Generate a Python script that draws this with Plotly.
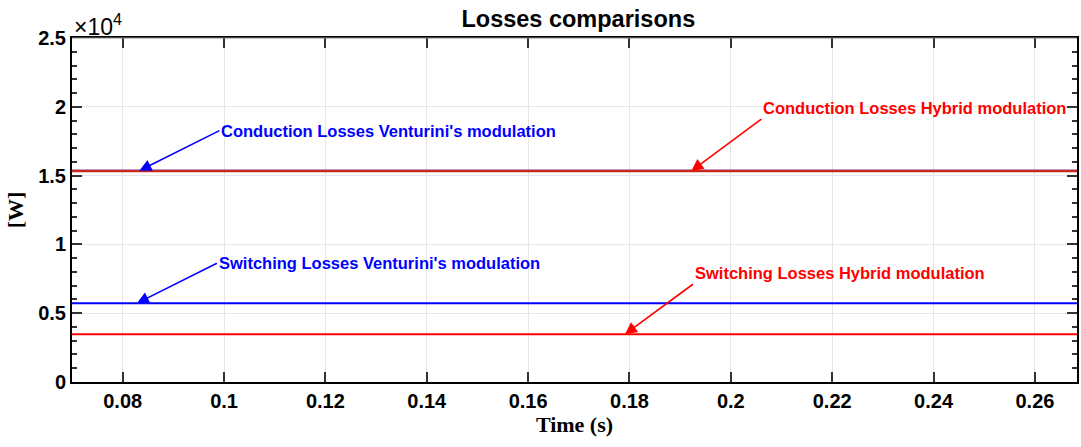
import plotly.graph_objects as go

# Data (values in W)
time_s = [0.07, 0.27]
cond_venturini = [15360, 15360]
cond_hybrid = [15330, 15330]
sw_venturini = [5720, 5720]
sw_hybrid = [3470, 3470]

y_tickvals = [0, 5000, 10000, 15000, 20000, 25000]
y_ticktext = ["0", "0.5", "1", "1.5", "2", "2.5"]
x_tickvals = [0.08, 0.10, 0.12, 0.14, 0.16, 0.18, 0.20, 0.22, 0.24, 0.26]
x_ticktext = ["0.08", "0.1", "0.12", "0.14", "0.16", "0.18", "0.2", "0.22", "0.24", "0.26"]

BLUE = "#0000FF"
RED = "#FF0000"
SANS = "Liberation Sans, Arial, sans-serif"
SERIF = "Liberation Serif, Times New Roman, serif"

fig = go.Figure()
fig.add_trace(go.Scatter(x=time_s, y=sw_venturini, mode="lines", line=dict(color=BLUE, width=2)))
fig.add_trace(go.Scatter(x=time_s, y=sw_hybrid, mode="lines", line=dict(color=RED, width=2)))
fig.add_trace(go.Scatter(x=time_s, y=cond_venturini, mode="lines", line=dict(color=BLUE, width=2)))
fig.add_trace(go.Scatter(x=time_s, y=cond_hybrid, mode="lines", line=dict(color="#c8281a", width=2.5)))

annots = [
    # (text, color, x tip, y tip, ax, ay, yanchor)
    ("Conduction Losses Venturini's modulation", BLUE, 0.0833, cond_venturini[0], 80, -40, "middle"),
    ("Conduction Losses Hybrid modulation", RED, 0.1922, cond_hybrid[0], 70, -52, "bottom"),
    ("Switching Losses Venturini's modulation", BLUE, 0.0828, sw_venturini[0], 80, -40, "middle"),
    ("Switching Losses Hybrid modulation", RED, 0.1791, sw_hybrid[0], 68, -50, "bottom"),
]
annotations = []
for text, color, xt, yt, ax, ay, ya in annots:
    annotations.append(dict(
        x=xt, y=yt, xref="x", yref="y", ax=ax, ay=ay,
        text="<b>%s</b>" % text, showarrow=True, arrowhead=2, arrowsize=1.5,
        arrowwidth=1.6, arrowcolor=color, xanchor="left", yanchor=ya,
        font=dict(family=SANS, size=16.5, color=color),
    ))

annotations.append(dict(
    x=0, y=1, xref="paper", yref="paper", xanchor="left", yanchor="bottom",
    xshift=0, yshift=-4,
    text="×10<sup>4</sup>", showarrow=False,
    font=dict(family=SANS, size=23, color="black"),
))

fig.update_layout(
    width=1081, height=447,
    margin=dict(l=72, r=2, t=38, b=65),
    paper_bgcolor="white", plot_bgcolor="white",
    showlegend=False,
    title=dict(text="<b>Losses comparisons</b>", x=0.535, xanchor="center", y=0.957, yanchor="middle",
               font=dict(family=SANS, size=23.5, color="black")),
    annotations=annotations,
    shapes=[dict(type="line", xref="paper", yref="paper", x0=0, x1=1, y0=1, y1=1,
                 line=dict(color="#8c8c8c", width=1))],
)

fig.update_xaxes(
    range=[0.07, 0.2683], tickvals=x_tickvals, ticktext=["<b>%s</b>" % t for t in x_ticktext],
    ticks="inside", ticklen=10, tickwidth=1.5, tickcolor="#333333", mirror="ticks",
    showline=True, linecolor="black", linewidth=2,
    showgrid=True, gridcolor="#e6e6e6", gridwidth=1, zeroline=False,
    tickfont=dict(family=SANS, size=20, color="black"),
    title=dict(text="<b>Time (s)</b>", font=dict(family=SERIF, size=22, color="black"), standoff=6),
)
fig.update_yaxes(
    range=[0, 25000], tickvals=y_tickvals, ticktext=["<b>%s</b>" % t for t in y_ticktext],
    ticks="inside", ticklen=10, tickwidth=1.5, tickcolor="#333333", mirror="ticks",
    showline=True, linecolor="black", linewidth=2,
    showgrid=True, gridcolor="#e6e6e6", gridwidth=1, zeroline=False,
    minor=dict(dtick=1000, ticks="inside", ticklen=5, tickcolor="#333333", showgrid=False),
    tickfont=dict(family=SANS, size=20, color="black"),
    title=dict(text="<b>[W]</b>", font=dict(family=SERIF, size=22, color="black"), standoff=8),
)

fig.write_html("out.html")
